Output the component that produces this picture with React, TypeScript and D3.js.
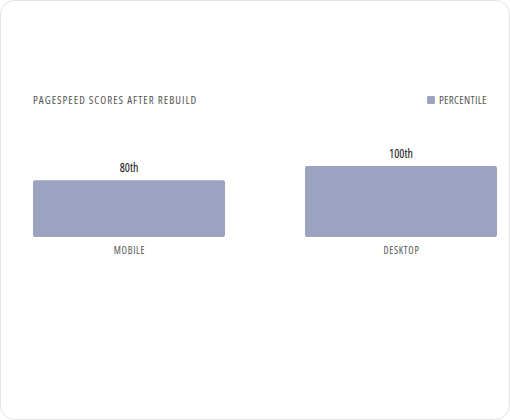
import React from "react";
import * as d3 from "d3";

const categories = ["MOBILE", "DESKTOP"];
const values = [80, 100];
const valueLabels = ["80th", "100th"];
const seriesName = "PERCENTILE";
const title = "PAGESPEED SCORES AFTER REBUILD";

const W = 510;
const H = 420;
const BAR_COLOR = "#9ba3c1";
const FONT = "'Open Sans', 'DejaVu Sans', sans-serif";
const COND = { fontStretch: "semi-condensed" } as React.CSSProperties;

export default function App() {
  const x = d3
    .scaleBand<string>()
    .domain(categories)
    .range([33, 497])
    .paddingInner(80 / 272)
    .paddingOuter(0);
  const y = d3.scaleLinear().domain([0, 100]).range([237, 166]);

  return (
    <div style={{ position: "fixed", left: 0, top: 0, width: W, height: H, background: "#fff" }}>
      <svg width={W} height={H} style={{ display: "block" }}>
        <rect x={0.5} y={0.5} width={W - 1} height={H - 1} rx={14} ry={14} fill="#fff" stroke="#e2e2e2" />
        <text x={33} y={104} fontFamily={FONT} fontSize={11} fill="#555" style={COND} letterSpacing={1.0}>
          {title}
        </text>
        <rect x={427} y={96} width={8} height={8} rx={1.5} fill={BAR_COLOR} />
        <text x={439} y={104} fontFamily={FONT} fontSize={11} fill="#555" style={COND} letterSpacing={0.3}>
          {seriesName}
        </text>
        {categories.map((c, i) => (
          <g key={c}>
            <rect
              x={x(c)}
              y={y(values[i])}
              width={x.bandwidth()}
              height={y(0) - y(values[i])}
              rx={2}
              ry={2}
              fill={BAR_COLOR}
            />
            <text
              x={(x(c) as number) + x.bandwidth() / 2}
              y={y(values[i]) - 8}
              textAnchor="middle"
              fontFamily={FONT}
              fontSize={12}
              fill="#111"
              style={COND}
            >
              {valueLabels[i]}
            </text>
            <text
              x={(x(c) as number) + x.bandwidth() / 2 + 0.5}
              y={254}
              textAnchor="middle"
              fontFamily={FONT}
              fontSize={10}
              fill="#555"
              style={COND}
              letterSpacing={0.7}
            >
              {c}
            </text>
          </g>
        ))}
      </svg>
    </div>
  );
}
